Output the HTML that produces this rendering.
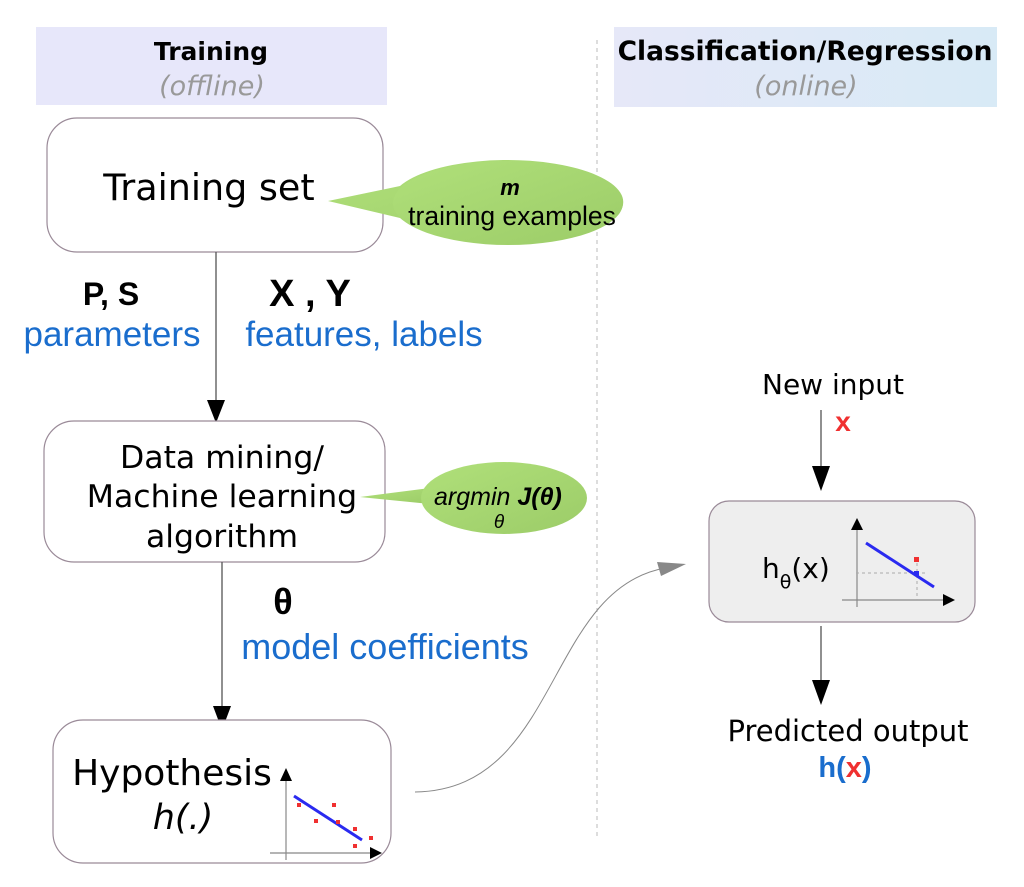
<!DOCTYPE html>
<html><head><meta charset="utf-8"><style>
html,body{margin:0;padding:0;background:#fff;}
svg{display:block;font-family:"DejaVu Sans","Liberation Sans",sans-serif;}
</style></head><body>
<svg width="1024" height="887" viewBox="0 0 1024 887" xmlns="http://www.w3.org/2000/svg">
<defs>
<linearGradient id="g1" x1="0" y1="0" x2="1" y2="1"><stop offset="0" stop-color="#b0e07a"/><stop offset="1" stop-color="#9ccc68"/></linearGradient>
<linearGradient id="hb" x1="0" y1="0" x2="1" y2="0"><stop offset="0" stop-color="#e6e8f8"/><stop offset="1" stop-color="#d8eaf6"/></linearGradient>
</defs>
<rect x="36" y="27" width="351" height="78" fill="#e7e7fa"/>
<rect x="614" y="27" width="383" height="80" fill="url(#hb)"/>
<text x="211" y="60" text-anchor="middle" font-size="25" font-weight="bold" fill="#000">Training</text>
<text x="212" y="95" text-anchor="middle" font-size="27" font-style="italic" fill="#999">(offline)</text>
<text x="805" y="60" text-anchor="middle" font-size="26.5" font-weight="bold" fill="#000">Classification/Regression</text>
<text x="806" y="95" text-anchor="middle" font-size="27" font-style="italic" fill="#999">(online)</text>
<line x1="597" y1="40" x2="597" y2="838" stroke="#bbb" stroke-width="1" stroke-dasharray="4,4"/>

<rect x="47" y="118" width="336" height="134" rx="30" fill="#fff" stroke="#9a8a98" stroke-width="1.2"/>
<text x="209" y="200" text-anchor="middle" font-size="36.5" fill="#000">Training set</text>
<path d="M328,201 L400,186 A116,42 0 1 1 400,218 Z" fill="url(#g1)"/>
<ellipse cx="508" cy="203" rx="115" ry="42" fill="url(#g1)"/>
<text x="510" y="195" text-anchor="middle" font-size="22" font-weight="bold" font-style="italic" font-family="Liberation Sans" fill="#000">m</text>
<text x="512" y="225" text-anchor="middle" font-size="26.5" font-family="Liberation Sans" fill="#000">training examples</text>

<line x1="216" y1="252" x2="216" y2="402" stroke="#555" stroke-width="1.3"/>
<polygon points="207,400 225,400 216,423" fill="#000"/>
<text x="111" y="305" text-anchor="middle" font-size="32" font-weight="bold" font-family="Liberation Sans" fill="#000">P, S</text>
<text x="112" y="346" text-anchor="middle" font-size="35" font-family="Liberation Sans" fill="#1a6dcd">parameters</text>
<text x="310" y="306" text-anchor="middle" font-size="38" font-weight="bold" font-family="Liberation Sans" fill="#000">X , Y</text>
<text x="364" y="346" text-anchor="middle" font-size="35" font-family="Liberation Sans" fill="#1a6dcd">features, labels</text>

<rect x="44" y="421" width="341" height="141" rx="30" fill="#fff" stroke="#9a8a98" stroke-width="1.2"/>
<text x="222" y="468" text-anchor="middle" font-size="31.5" fill="#000">Data mining/</text>
<text x="222" y="507" text-anchor="middle" font-size="31.5" fill="#000">Machine learning</text>
<text x="222" y="547" text-anchor="middle" font-size="31.5" fill="#000">algorithm</text>
<path d="M360,497 L430,488 L430,504 Z" fill="url(#g1)"/>
<ellipse cx="504" cy="498" rx="83" ry="36" fill="url(#g1)"/>
<text x="434" y="505" font-size="25" font-style="italic" font-family="Liberation Sans" fill="#000">argmin <tspan font-weight="bold">J(θ)</tspan></text>
<text x="499" y="528" text-anchor="middle" font-size="19" font-style="italic" font-family="Liberation Sans" fill="#000">θ</text>

<line x1="222" y1="562" x2="222" y2="708" stroke="#555" stroke-width="1.3"/>
<polygon points="213,706 231,706 222,730" fill="#000"/>
<text x="283" y="614" text-anchor="middle" font-size="36" font-weight="bold" font-family="Liberation Sans" fill="#000">θ</text>
<text x="385" y="659" text-anchor="middle" font-size="36" font-family="Liberation Sans" fill="#1a6dcd">model coefficients</text>

<rect x="53" y="720" width="338" height="143" rx="30" fill="#fff" stroke="#9a8a98" stroke-width="1.2"/>
<text x="172" y="785" text-anchor="middle" font-size="36" fill="#000">Hypothesis</text>
<text x="183" y="829" text-anchor="middle" font-size="35" font-style="italic" fill="#000">h(.)</text>
<line x1="286" y1="860" x2="286" y2="778" stroke="#888" stroke-width="1.2"/>
<polygon points="280,781 292,781 286,768" fill="#000"/>
<line x1="270" y1="853" x2="372" y2="853" stroke="#888" stroke-width="1.2"/>
<polygon points="370,847 370,859 382,853" fill="#000"/>
<line x1="294" y1="796" x2="362" y2="840" stroke="#2a2af0" stroke-width="3"/>
<g fill="#f03030"><rect x="297" y="803" width="4" height="4"/><rect x="332" y="803" width="4" height="4"/><rect x="314" y="819" width="4" height="4"/><rect x="336" y="820" width="4" height="4"/><rect x="353" y="827" width="4" height="4"/><rect x="369" y="836" width="4" height="4"/><rect x="353" y="844" width="4" height="4"/></g>

<path d="M415,792 C560,790 545,590 665,568" fill="none" stroke="#888" stroke-width="1"/>
<polygon points="657,562 686,564 661,576" fill="#888"/>

<text x="833" y="394" text-anchor="middle" font-size="28" fill="#000">New input</text>
<text x="843" y="431" text-anchor="middle" font-size="28" font-weight="bold" font-family="Liberation Sans" fill="#f03030">x</text>
<line x1="821" y1="410" x2="821" y2="468" stroke="#555" stroke-width="1.3"/>
<polygon points="812,466 830,466 821,491" fill="#000"/>
<rect x="709" y="501" width="266" height="121" rx="20" fill="#eeeeee" stroke="#9a8a98" stroke-width="1.2"/>
<text x="762" y="578" font-size="28" fill="#000">h<tspan font-size="19" dy="10">θ</tspan><tspan dy="-10">(x)</tspan></text>
<line x1="857" y1="607" x2="857" y2="527" stroke="#888" stroke-width="1.2"/>
<polygon points="851,530 863,530 857,518" fill="#000"/>
<line x1="842" y1="600" x2="944" y2="600" stroke="#888" stroke-width="1.2"/>
<polygon points="943,594 943,606 955,600" fill="#000"/>
<line x1="856" y1="573" x2="926" y2="573" stroke="#aaa" stroke-width="1" stroke-dasharray="3,3"/>
<line x1="917" y1="563" x2="917" y2="600" stroke="#aaa" stroke-width="1" stroke-dasharray="3,3"/>
<line x1="866" y1="543" x2="934" y2="587" stroke="#2a2af0" stroke-width="3"/>
<rect x="914" y="557" width="5" height="5" fill="#f03030"/>
<rect x="914" y="571" width="5" height="5" fill="#2a2af0"/>
<line x1="821" y1="626" x2="821" y2="682" stroke="#555" stroke-width="1.3"/>
<polygon points="812,680 830,680 821,705" fill="#000"/>
<text x="848" y="741" text-anchor="middle" font-size="29" fill="#000">Predicted output</text>
<text x="845" y="777" text-anchor="middle" font-size="29" font-weight="bold" font-family="Liberation Sans" fill="#1a6dcd">h(<tspan fill="#f03030">x</tspan>)</text>
</svg>
</body></html>
